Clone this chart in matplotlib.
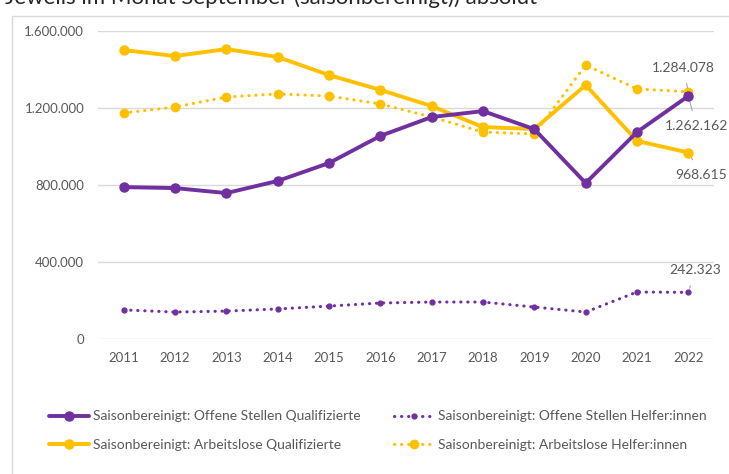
import matplotlib.pyplot as plt
from matplotlib.patches import Rectangle
from matplotlib.ticker import FuncFormatter

# --- data ---
years = ['2011', '2012', '2013', '2014', '2015', '2016', '2017', '2018', '2019', '2020', '2021', '2022']
os_quali = [789000, 784000, 758000, 821000, 914000, 1055000, 1153000, 1184000, 1090000, 810000, 1075000, 1262162]
os_helfer = [151000, 140000, 145000, 156000, 171000, 187000, 192000, 192000, 166000, 140000, 244000, 242323]
al_quali = [1501000, 1470000, 1506000, 1465000, 1371000, 1294000, 1210000, 1101000, 1091000, 1319000, 1029000, 968615]
al_helfer = [1174000, 1205000, 1257000, 1273000, 1262000, 1221000, 1153000, 1075000, 1065000, 1423000, 1299000, 1284078]

labels = ['Saisonbereinigt: Offene Stellen Qualifizierte',
          'Saisonbereinigt: Offene Stellen Helfer:innen',
          'Saisonbereinigt: Arbeitslose Qualifizierte',
          'Saisonbereinigt: Arbeitslose Helfer:innen']

PURPLE = '#7030A0'
YELLOW = '#FFC000'
GRAY = '#595959'

plt.rcParams['font.family'] = ['Lato', 'DejaVu Sans']

fig = plt.figure(figsize=(7.29, 4.74), dpi=100)
ax = fig.add_axes([98 / 729, 1 - 339 / 474, (714 - 98) / 729, (339 - 31) / 474])

x = range(len(years))
dots = (0, (0.1, 2.2))

ax.plot(x, os_helfer, color=PURPLE, lw=2.2, linestyle=dots, dash_capstyle='round',
        marker='o', ms=3.5, label=labels[1], zorder=3)
ax.plot(x, al_helfer, color=YELLOW, lw=2.2, linestyle=dots, dash_capstyle='round',
        marker='o', ms=6, label=labels[3], zorder=3)
ax.plot(x, al_quali, color=YELLOW, lw=2.8, marker='o', ms=6.5, label=labels[2],
        solid_capstyle='round', zorder=4)
ax.plot(x, os_quali, color=PURPLE, lw=2.8, marker='o', ms=6.5, label=labels[0],
        solid_capstyle='round', zorder=5)

ax.set_xlim(-0.5, len(years) - 0.5)
ax.set_ylim(0, 1600000)
ax.set_yticks([0, 400000, 800000, 1200000, 1600000])
ax.yaxis.set_major_formatter(FuncFormatter(lambda v, p: f'{int(v):,}'.replace(',', '.')))
ax.set_xticks(list(x))
ax.set_xticklabels(years)
ax.grid(axis='y', color='#d9d9d9', lw=1)
ax.set_axisbelow(True)
for s in ax.spines.values():
    s.set_visible(False)
ax.tick_params(length=0, labelsize=9.5, labelcolor=GRAY, pad=10)
ax.tick_params(axis='x', pad=9)

# data labels at the last year
last = len(years) - 1
lbl_kw = dict(fontsize=10, color=GRAY, ha='center', va='center', textcoords='offset pixels',
              arrowprops=dict(arrowstyle='-', color='#a6a6a6', lw=0.8, shrinkA=5, shrinkB=3))
ax.annotate(f'{al_helfer[-1]:,}'.replace(',', '.'), (last, al_helfer[-1]), xytext=(-5, 24), **lbl_kw)
ax.annotate(f'{os_quali[-1]:,}'.replace(',', '.'), (last, os_quali[-1]), xytext=(8, -30), **lbl_kw)
ax.annotate(f'{al_quali[-1]:,}'.replace(',', '.'), (last, al_quali[-1]), xytext=(13, -22), **lbl_kw)
ax.annotate(f'{os_helfer[-1]:,}'.replace(',', '.'), (last, os_helfer[-1]), xytext=(7, 22), **lbl_kw)

# chart frame
fig.patches.append(Rectangle((12 / 729, -0.05), 1.0, 1 - 16 / 474 + 0.05, transform=fig.transFigure,
                             fill=False, edgecolor='#d9d9d9', lw=1))

# cut-off title (the reference shows only its lower part)
fig.text(5 / 729, 1 + 2 / 474, 'Jeweils im Monat September (saisonbereinigt)) absolut',
         fontsize=16, color='#262626', va='center', ha='left')

# legend
h = {l.get_label(): l for l in ax.get_lines()}
order = [labels[0], labels[2], labels[1], labels[3]]
fig.legend([h[k] for k in order], order, ncol=2, frameon=False, loc='upper left',
           bbox_to_anchor=(36 / 729, 1 - 398 / 474), fontsize=10, labelcolor=GRAY,
           handlelength=2.9, handletextpad=0.3, columnspacing=2.4, labelspacing=1.2)

fig.savefig('out.png', dpi=100)
